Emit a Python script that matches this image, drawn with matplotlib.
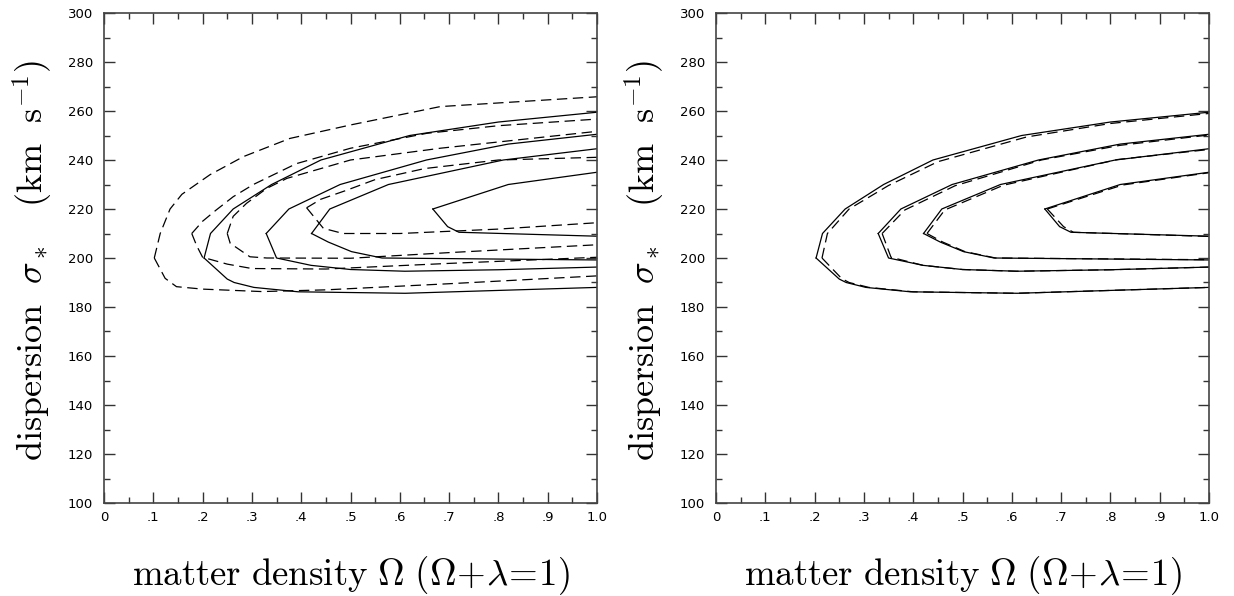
import numpy as np
import matplotlib
matplotlib.use('Agg')
import matplotlib.pyplot as plt
from matplotlib.ticker import MultipleLocator, FixedLocator

plt.rcParams['mathtext.fontset'] = 'cm'
plt.rcParams['lines.scale_dashes'] = False

# solid contours (same in both panels): upper branch then lower branch, from the tip outwards
sol_up = [
    ([0.203, 0.216, 0.262, 0.34, 0.44, 0.62, 0.8, 1.0], [200, 210, 220, 230, 240, 250, 255.5, 259.5]),
    ([0.329, 0.375, 0.479, 0.654, 0.82, 1.0], [210, 220, 230, 240, 246.5, 250.5]),
    ([0.421, 0.458, 0.577, 0.81, 1.0], [210, 220, 230, 240, 244.6]),
    ([0.667, 0.82, 1.0], [220, 230, 235]),
]
sol_lo = [
    ([0.203, 0.25, 0.264, 0.304, 0.394, 0.611, 1.0], [200, 191.4, 190, 188, 186.2, 185.6, 188]),
    ([0.329, 0.35, 0.42, 0.5, 0.61, 0.8, 1.0], [210, 200, 197, 195.3, 194.6, 195.2, 196.3]),
    ([0.421, 0.455, 0.502, 0.564, 1.0], [210, 206.5, 202.6, 200, 199.2]),
    ([0.667, 0.697, 0.72, 1.0], [220, 212.8, 210.5, 208.9]),
]

# dashed contours, left panel
dl_up = [
    ([0.102, 0.114, 0.134, 0.158, 0.215, 0.283, 0.377, 0.5, 0.682, 1.0],
     [200, 210, 220, 226, 234, 241.4, 248.8, 254.3, 261.8, 265.8]),
    ([0.178, 0.2, 0.227, 0.262, 0.303, 0.39, 0.5, 0.655, 0.8, 1.0],
     [210, 215, 219.5, 225, 230, 238.5, 244.8, 250.9, 254, 256.7]),
    ([0.25, 0.262, 0.289, 0.33, 0.371, 0.5, 0.682, 1.0],
     [210, 217, 222.3, 228.4, 232.5, 240, 244.8, 251.7]),
    ([0.411, 0.44, 0.49, 0.55, 0.65, 0.8, 1.0], [220.5, 224, 227.5, 232, 236.5, 240, 241.1]),
]
dl_lo = [
    ([0.102, 0.124, 0.147, 0.2, 0.32, 0.45, 0.7, 1.0], [200, 191.7, 188.3, 187.3, 186.3, 187, 189.5, 192.7]),
    ([0.178, 0.188, 0.2, 0.25, 0.3, 0.45, 0.7, 1.0], [210, 205, 200.3, 197.5, 195.7, 195.5, 197.8, 200.3]),
    ([0.25, 0.256, 0.296, 0.33, 0.5, 0.7, 1.0], [210, 206, 200.5, 200, 199.9, 202.2, 205.4]),
    ([0.411, 0.445, 0.485, 0.6, 0.8, 1.0], [220.5, 212.1, 210, 210, 211.8, 214.4]),
]

# dashed contours, right panel
dr_up = [
    ([0.215, 0.226, 0.27, 0.35, 0.45, 0.63, 0.8, 1.0], [200, 210, 220, 229.6, 239.3, 249.4, 254.9, 259]),
    ([0.337, 0.383, 0.485, 0.66, 0.82, 1.0], [210, 219.6, 229.5, 240, 246, 250.2]),
    ([0.428, 0.464, 0.583, 0.815, 1.0], [210, 219.6, 229.7, 240.2, 244.3]),
    ([0.672, 0.825, 1.0], [220, 229.8, 234.8]),
]
dr_lo = [
    ([0.215, 0.255, 0.27, 0.31, 0.4, 0.61, 1.0], [200, 191.6, 190, 188, 186.2, 185.6, 188]),
    ([0.337, 0.355, 0.42, 0.5, 0.61, 0.8, 1.0], [210, 200.3, 197, 195.3, 194.6, 195.2, 196.3]),
    ([0.428, 0.46, 0.505, 0.567, 1.0], [210, 206.5, 202.6, 200, 199.3]),
    ([0.672, 0.705, 0.725, 1.0], [220, 212.8, 210.5, 208.8]),
]

xticks = [0, 0.1, 0.2, 0.3, 0.4, 0.5, 0.6, 0.7, 0.8, 0.9, 1.0]
xticklabels = ['0', '.1', '.2', '.3', '.4', '.5', '.6', '.7', '.8', '.9', '1.0']
yticks = [100, 120, 140, 160, 180, 200, 220, 240, 260, 280, 300]

xlabel = r'$\mathrm{matter\ density}\ \Omega\ (\Omega\!+\!\lambda\!=\!1)$'
ylabel = r'$\mathrm{dispersion}\ \ \sigma_*\ \ \ (\mathrm{km\ \ s}^{-1})$'

fig = plt.figure(figsize=(12.34, 5.96), dpi=100)
ax1 = fig.add_axes([104 / 1234, 93 / 596, 493 / 1234, 490 / 596])
ax2 = fig.add_axes([716 / 1234, 93 / 596, 493 / 1234, 490 / 596])


def draw(ax, dup, dlo):
    for (x, y) in sol_up + sol_lo:
        ax.plot(x, y, color='black', lw=0.9)
    for (x, y) in dup + dlo:
        ax.plot(x, y, color='black', lw=0.9, linestyle=(0, (7.5, 4)))
    ax.set_xlim(0, 1)
    ax.set_ylim(100, 300)
    ax.xaxis.set_major_locator(FixedLocator(xticks))
    ax.set_xticklabels(xticklabels)
    ax.yaxis.set_major_locator(FixedLocator(yticks))
    ax.xaxis.set_minor_locator(MultipleLocator(0.05))
    ax.yaxis.set_minor_locator(MultipleLocator(10))
    ax.tick_params(which='both', direction='in', top=True, right=True, color='#333333',
                   labelsize=9.5, width=1)
    ax.tick_params(which='major', length=8)
    ax.tick_params(axis='y', which='major', pad=8)
    ax.tick_params(axis='x', which='major', pad=6)
    ax.tick_params(which='minor', length=4)
    for s in ax.spines.values():
        s.set_color('#444444')
        s.set_linewidth(1.2)
    ax.set_xlabel(xlabel, fontsize=26.5)
    ax.xaxis.set_label_coords(0.5, -0.105)
    ax.set_ylabel(ylabel, fontsize=26)
    ax.yaxis.set_label_coords(-0.1, 0.495)


draw(ax1, dl_up, dl_lo)
draw(ax2, dr_up, dr_lo)

fig.savefig('out.png', dpi=100)
